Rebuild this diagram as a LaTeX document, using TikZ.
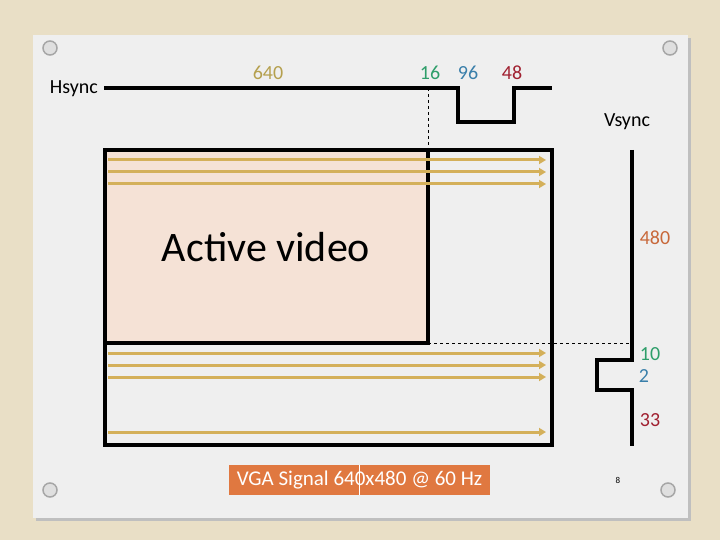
\documentclass[tikz,border=0pt]{standalone}
\usepackage{fontspec}
\setmainfont{Carlito}
\begin{document}
\begin{tikzpicture}[x=1pt,y=-1pt,
  sig/.style={line width=3.5pt},
  arr/.style={draw=gold,line width=3pt,-{Triangle[length=7pt,width=8pt]}},
  lbl/.style={font=\fontsize{20}{23}\selectfont,inner sep=0pt},
  pin/.style={circle,minimum size=14pt,inner sep=0pt,draw=gray!70,line width=1.5pt,fill=gray!25}]
\usetikzlibrary{arrows.meta}
\definecolor{bg}{HTML}{E9DFC6}
\definecolor{card}{HTML}{EFEFEF}
\definecolor{gold}{HTML}{D4B05A}
\definecolor{act}{HTML}{F5E2D6}
\definecolor{olive}{HTML}{B5A04E}
\definecolor{gr}{HTML}{2E9E6A}
\definecolor{bl}{HTML}{3A7FAA}
\definecolor{rd}{HTML}{A02030}
\definecolor{org}{HTML}{C8683A}
\definecolor{lab}{HTML}{E07840}
\fill[bg] (0,0) rectangle (720,540);
\useasboundingbox (0,0) rectangle (720,540);
\fill[black!25] (36,38) rectangle (691,521);
\fill[card] (33,35) rectangle (688,518);
\node[pin] (p1) at (50,48) {};
\node[pin] (p2) at (670,48) {};
\node[pin] (p3) at (50,490) {};
\node[pin] (p4) at (668,490) {};
% Hsync
\node[lbl,anchor=east] (hs) at (98,89) {Hsync};
\draw[sig] (104,88) -- (458,88) -- (458,122) -- (514,122) -- (514,88) -- (552,88);
\draw[dashed] (428,88) -- (428,150);
\node[lbl,text=olive] (n640) at (268,73) {640};
\node[lbl,text=gr] (n16) at (430,73) {16};
\node[lbl,text=bl] (n96) at (468,73) {96};
\node[lbl,text=rd] (n48) at (512,73) {48};
% Vsync
\node[lbl] (vs) at (627,122) {Vsync};
\draw[sig] (632,150) -- (632,360) -- (597,360) -- (597,390) -- (632,390) -- (632,446);
\draw[dashed] (428,343) -- (632,343);
\node[lbl,text=org] (n480) at (655,238) {480};
\node[lbl,text=gr] (n10) at (650,354) {10};
\node[lbl,text=bl] (n2) at (644,376) {2};
\node[lbl,text=rd] (n33) at (650,420) {33};
% frames
\fill[act] (105,150) rectangle (428,343);
\draw[sig] (105,150) rectangle (552,445);
\draw[sig] (105,343) -- (428,343) -- (428,150);
\foreach \y in {160,172,184,353,365,377,432} \draw[arr] (108,\y) -- (546,\y);
\node[font=\fontsize{42}{45}\selectfont,inner sep=0pt] (av) at (266,247) {Active video};
% caption
\node[fill=lab,text=white,minimum width=261pt,minimum height=30pt,inner sep=0pt,font=\fontsize{21}{23}\selectfont] (cap) at (359.5,480) {VGA Signal 640x480 @ 60 Hz};
\draw[white,line width=0.6pt] (359,465) -- (359,495);
\node[font=\fontsize{9}{10}\selectfont,inner sep=0pt] (pg) at (618,480) {8};
\end{tikzpicture}
\end{document}
